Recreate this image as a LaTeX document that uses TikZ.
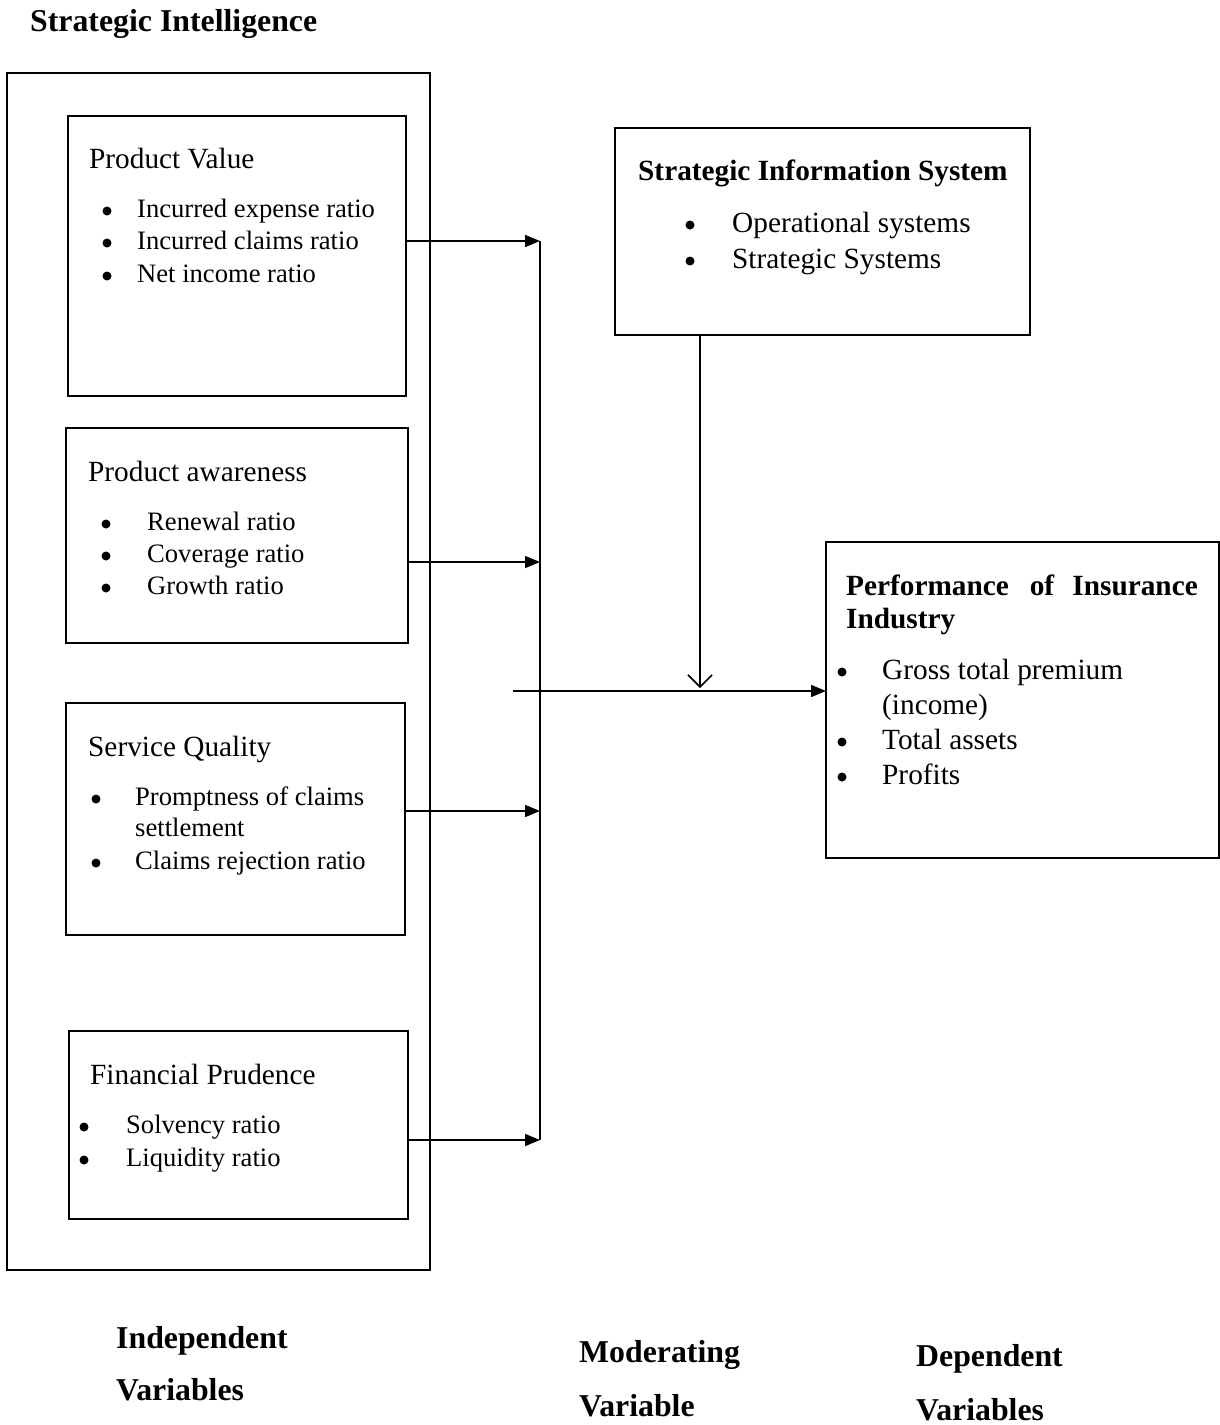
\documentclass[tikz,border=0pt]{standalone}
\usepackage{fontspec}
\setmainfont{Liberation Serif}
\usetikzlibrary{arrows.meta}
\begin{document}
\begin{tikzpicture}[x=1pt,y=-1pt,
  box/.style={draw,line width=1.6pt,inner sep=0pt,outer sep=0pt,anchor=north west},
  txt/.style={anchor=base west,inner sep=0pt},
  hd/.style={txt,font=\fontsize{29.3}{35}\selectfont},
  sm/.style={txt,font=\fontsize{26.6}{32}\selectfont},
  bhd/.style={txt,font=\fontsize{29.3}{35}\selectfont\bfseries},
  big/.style={txt,font=\fontsize{31.8}{38}\selectfont\bfseries},
  dot/.style={circle,fill,inner sep=0pt,minimum size=9pt},
  line/.style={line width=1.6pt},
  arr/.style={line width=1.6pt,-{Triangle[length=15pt,width=12pt]}},
  darr/.style={line width=1.6pt,-{Straight Barb[length=12pt,width=24pt,line width=1.6pt]}}]
\useasboundingbox (0,0) rectangle (1220,1425);
\fill[white] (0,0) rectangle (1220,1425);

% title
\node[big] (title) at (30,31) {Strategic Intelligence};

% outer box
\node[box,minimum width=423pt,minimum height=1197pt] (outer) at (7,73) {};

% Product Value
\node[box,minimum width=338pt,minimum height=280pt] (pv) at (68,116) {};
\node[hd] (pvh) at (89,168) {Product Value};
\node[dot] (pvb1) at (107,211) {};
\node[sm] (pv1) at (137,217) {Incurred expense ratio};
\node[dot] (pvb2) at (107,243) {};
\node[sm] (pv2) at (137,249) {Incurred claims ratio};
\node[dot] (pvb3) at (107,276) {};
\node[sm] (pv3) at (137,282) {Net income ratio};

% Product awareness
\node[box,minimum width=342pt,minimum height=215pt] (pa) at (66,428) {};
\node[hd] (pah) at (88,481) {Product awareness};
\node[dot] (pab1) at (106,524) {};
\node[sm] (pa1) at (147,530) {Renewal ratio};
\node[dot] (pab2) at (106,556) {};
\node[sm] (pa2) at (147,562) {Coverage ratio};
\node[dot] (pab3) at (106,588) {};
\node[sm] (pa3) at (147,594) {Growth ratio};

% Service Quality
\node[box,minimum width=339pt,minimum height=232pt] (sq) at (66,703) {};
\node[hd] (sqh) at (88,756) {Service Quality};
\node[dot] (sqb1) at (96,799) {};
\node[sm] (sq1) at (135,805) {Promptness of claims};
\node[sm] (sq1b) at (135,836) {settlement};
\node[dot] (sqb2) at (96,863) {};
\node[sm] (sq2) at (135,869) {Claims rejection ratio};

% Financial Prudence
\node[box,minimum width=339pt,minimum height=188pt] (fp) at (69,1031) {};
\node[hd] (fph) at (90,1084) {Financial Prudence};
\node[dot] (fpb1) at (84,1127) {};
\node[sm] (fp1) at (126,1133) {Solvency ratio};
\node[dot] (fpb2) at (84,1160) {};
\node[sm] (fp2) at (126,1166) {Liquidity ratio};

% Strategic Information System
\node[box,minimum width=415pt,minimum height=207pt] (sis) at (615,128) {};
\node[bhd] (sish) at (638,180) {Strategic Information System};
\node[dot] (sisb1) at (690,225) {};
\node[hd] (sis1) at (732,232) {Operational systems};
\node[dot] (sisb2) at (690,261) {};
\node[hd] (sis2) at (732,268) {Strategic Systems};

% Performance
\node[box,minimum width=393pt,minimum height=316pt] (perf) at (826,542) {};
\node[bhd] (pf1) at (846,595) {Performance};
\node[bhd,anchor=base] (pf2) at (1042,595) {of};
\node[bhd,anchor=base east] (pf3) at (1198,595) {Insurance};
\node[bhd] (pf4) at (846,628) {Industry};
\node[dot] (pfb1) at (842,672) {};
\node[hd] (pfi1) at (882,679) {Gross total premium};
\node[hd] (pfi1b) at (882,714) {(income)};
\node[dot] (pfb2) at (842,742) {};
\node[hd] (pfi2) at (882,749) {Total assets};
\node[dot] (pfb3) at (842,777) {};
\node[hd] (pfi3) at (882,784) {Profits};

% connectors
\coordinate (j1) at (540,241);
\coordinate (j2) at (540,562);
\coordinate (j3) at (540,811);
\coordinate (j4) at (540,1140);
\draw[arr] (pv.east |- j1) -- (j1);
\draw[arr] (pa.east |- j2) -- (j2);
\draw[arr] (sq.east |- j3) -- (j3);
\draw[arr] (fp.east |- j4) -- (j4);
\draw[line] (j1) -- (j4);
\coordinate (hs) at (513,691);
\draw[arr] (hs) -- (perf.west |- hs);
\coordinate (dn) at (700,688);
\draw[darr] (sis.south -| dn) -- (dn);

% bottom labels
\node[big] (iv1) at (116,1348) {Independent};
\node[big] (iv2) at (116,1400) {Variables};
\node[big] (mv1) at (579,1362) {Moderating};
\node[big] (mv2) at (579,1416) {Variable};
\node[big] (dv1) at (916,1366) {Dependent};
\node[big] (dv2) at (916,1420) {Variables};
\end{tikzpicture}
\end{document}
